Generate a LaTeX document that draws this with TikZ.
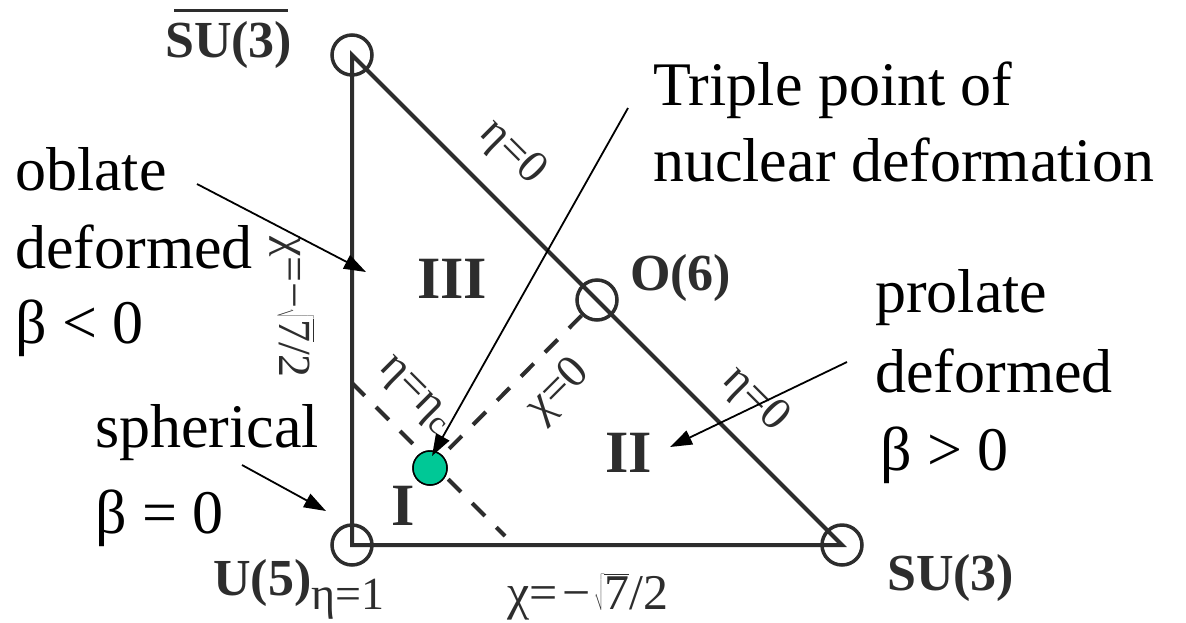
\documentclass[tikz,border=0pt]{standalone}
\usepackage{fontspec}
\setmainfont{Liberation Serif}
\usetikzlibrary{arrows.meta}
\definecolor{dotgreen}{RGB}{0,200,150}
\definecolor{ink}{RGB}{45,45,45}
\begin{document}
\begin{tikzpicture}[x=1pt,y=-1pt,
  big/.style={font=\fontsize{62}{74}\selectfont, inner sep=0, anchor=base west},
  grp/.style={font=\fontsize{52}{60}\bfseries\selectfont, text=ink, inner sep=0, anchor=base west},
  numeral/.style={font=\fontsize{60}{70}\bfseries\selectfont, text=ink, inner sep=0, anchor=base west},
  lbl/.style={font=\fontsize{46}{54}\selectfont, text=ink, inner sep=0},
  vertex/.style={circle, draw=ink, line width=3.5pt, minimum size=40pt, inner sep=0},
  side/.style={draw=ink, line width=4pt},
  dashline/.style={draw=ink, line width=4pt, dash pattern=on 18pt off 16pt},
  pointer/.style={draw=black, line width=1.8pt, -{Triangle[length=22pt,width=15pt]}},
  tpdot/.style={circle, fill=dotgreen, draw=black, line width=1.5pt, minimum size=34pt, inner sep=0}]
\useasboundingbox[fill=white] (0,0) rectangle (1186,622);

% vertices
\node[vertex] (su3bar) at (352,55) {};
\node[vertex] (u5) at (352,545) {};
\node[vertex] (su3) at (842,545) {};
\node[vertex] (o6) at (597,300) {};
\node[tpdot] (tp) at (430,468) {};
\coordinate (etacL) at (352,383);
\coordinate (etacR) at (505,536);

% triangle sides
\draw[side] (su3bar.center) -- (u5.center) -- (su3.center) -- (o6.center) -- cycle;
% dashed lines
\draw[dashline] (o6) -- (tp);
\draw[dashline] (etacL) -- (etacR);
\node[tpdot] at (tp) {};

% vertex labels
\node[grp] (su3barlab) at (165,57) {SU(3)};
\draw[draw=ink, line width=3pt] (174,10) -- (288,10);
\node[grp] (u5lab) at (213,595) {U(5)};
\node[lbl, anchor=base west] (eta1) at (311,609) {η=1};
\node[grp] (su3lab) at (887,590) {SU(3)};
\node[grp] (o6lab) at (630,290) {O(6)};

% region numerals
\node[numeral] (r3) at (417,298) {III};
\node[numeral] (r2) at (605,472) {II};
\node[numeral] (r1) at (391,525) {I};

% line labels
\node[lbl, rotate=-45] (eta0a) at (512,153) {η=0};
\node[lbl, rotate=-45] (eta0b) at (755,400) {η=0};
\node[lbl, rotate=-90] (chiv) at (292,307) {χ=−$\sqrt{\mbox{7}}$/2};
\node[lbl, rotate=45] (chi0) at (559,391) {χ=0};
\node[lbl, rotate=-45] (etac) at (414,396) {η=η\textsubscript{c}};
\node[lbl, anchor=base west, font=\fontsize{50}{58}\selectfont] (chib) at (507,609) {χ=\hspace{5pt}−\hspace{3pt}$\sqrt{\mbox{7}}$/2};

% annotations
\node[big] (obl1) at (15,190) {oblate};
\node[big] (obl2) at (15,268) {deformed};
\node[big] (obl3) at (15,343) {β < 0};
\node[big] (sph1) at (95,447) {spherical};
\node[big] (sph2) at (95,533) {β = 0};
\node[big] (pro1) at (875,312) {prolate};
\node[big] (pro2) at (875,392) {deformed};
\node[big] (pro3) at (880,470) {β > 0};
\node[big] (tri1) at (653,105) {Triple point of};
\node[big] (tri2) at (653,181) {nuclear deformation};

\coordinate (oblS) at (197,184);
\coordinate (oblE) at (366,272);
\coordinate (sphS) at (242,465);
\coordinate (sphE) at (326,511);
\coordinate (triS) at (628,108);
\coordinate (triE) at (432,456);
\coordinate (proS) at (847,362);
\coordinate (proE) at (670,447);
\draw[pointer] (oblS) -- (oblE);
\draw[pointer] (sphS) -- (sphE);
\draw[pointer] (triS) -- (triE);
\draw[pointer] (proS) -- (proE);
\end{tikzpicture}
\end{document}
